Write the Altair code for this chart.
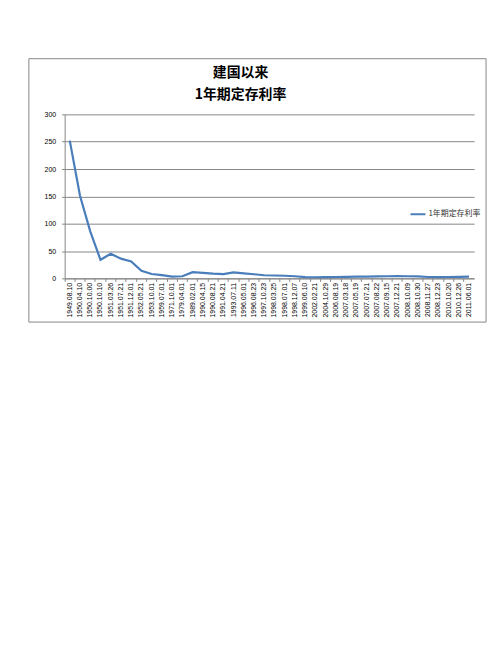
import altair as alt
import pandas as pd

dates = ["1949.08.10","1950.04.10","1950.10.00","1950.10.10","1951.03.26","1951.07.21","1951.12.01",
         "1952.05.21","1953.10.01","1959.07.01","1971.10.01","1979.04.01","1989.02.01","1990.04.15",
         "1990.08.21","1991.04.21","1993.07.11","1996.05.01","1996.08.23","1997.10.23","1998.03.25",
         "1998.07.01","1998.12.07","1999.06.10","2002.02.21","2004.10.29","2006.08.19","2007.03.18",
         "2007.05.19","2007.07.21","2007.08.22","2007.09.15","2007.12.21","2008.10.09","2008.10.30",
         "2008.11.27","2008.12.23","2010.10.20","2010.12.26","2011.06.01"]
rates = [252, 151, 86, 34, 45, 36, 31, 14, 8, 6, 3.2, 3.9, 11.3, 10.1, 8.6, 7.6, 11, 9.2, 7.5, 5.7,
         5.2, 4.8, 3.8, 2.25, 2.0, 2.25, 2.5, 2.8, 3.1, 3.3, 3.6, 3.9, 4.1, 3.9, 3.6, 2.5, 2.25, 2.5,
         2.75, 3.25]
series_name = "1年期定存利率"
title_lines = ["建国以来", "1年期定存利率"]

df = pd.DataFrame({"date": dates, "rate": rates, "series": series_name})

GRID = "#868686"
FONT = "Liberation Sans"

frame = alt.Chart(pd.DataFrame({"a": [0]})).mark_rect(
    fill=None, stroke=GRID, strokeWidth=1
).encode(
    x=alt.value(-36), x2=alt.value(424), y=alt.value(-56), y2=alt.value(209)
)

line = alt.Chart(df).mark_line(color="#4A7EBB", strokeWidth=2.2).encode(
    x=alt.X("date:N", sort=None, bandPosition=0.5,
            scale=alt.Scale(type="band", paddingInner=0, paddingOuter=0),
            axis=alt.Axis(title=None, labelAngle=-90, labelFontSize=7, labelFont=FONT,
                          labelColor="#000000", domainColor=GRID, tickColor=GRID,
                          tickSize=3, labelPadding=1, bandPosition=0, labelBaseline="middle",
                          labelAlign="right")),
    y=alt.Y("rate:Q", scale=alt.Scale(domain=[0, 300]),
            axis=alt.Axis(title=None, values=[0, 50, 100, 150, 200, 250, 300], labelFontSize=7,
                          labelFont=FONT, labelColor="#000000", gridColor=GRID, domainColor=GRID,
                          tickColor=GRID, tickSize=3, labelPadding=6)),
    stroke=alt.Stroke("series:N", scale=alt.Scale(range=["#4A7EBB"]),
                      legend=alt.Legend(title=None, orient="none", legendX=347, legendY=92,
                                        symbolType="stroke", symbolSize=225, symbolStrokeWidth=2,
                                        labelFontSize=8, labelFont="Noto Sans CJK SC",
                                        labelColor="#333333", labelOffset=2)),
)

chart = alt.layer(frame, line).properties(
    width=412, height=165,
    autosize=alt.AutoSizeParams(type="none"),
    padding={"left": 57, "top": 106, "right": 20, "bottom": 60},
    title=alt.TitleParams(text=title_lines, fontSize=14, font="Noto Sans CJK SC", fontWeight="bold",
                          lineHeight=22, anchor="middle", dx=-29, offset=-44, color="#000000"),
).configure_view(stroke=None).configure_axis(grid=True)
chart = chart.configure_axisX(grid=False)

chart.save("out.html", embed_options={"renderer": "svg", "actions": False})
